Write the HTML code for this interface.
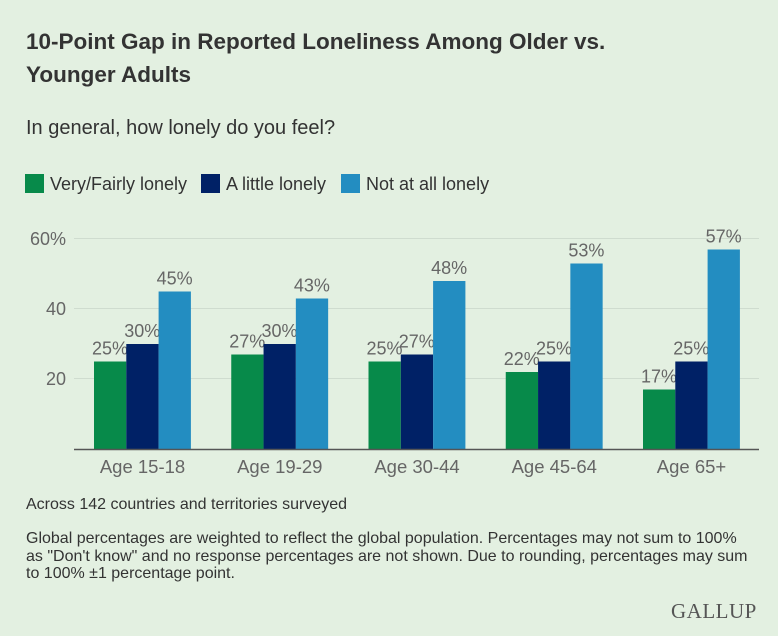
<!DOCTYPE html>
<html><head><style>
body{margin:0;background:#e3f0e1;}
#c{position:relative;width:778px;height:636px;background:#e3f0e1;font-family:"Liberation Sans",sans-serif;overflow:hidden}
.t{position:absolute;white-space:nowrap}
</style></head><body><div id="c">
<div class="t" style="left:26px;top:25px;font-size:22.5px;font-weight:bold;color:#333;line-height:33px">10-Point Gap in Reported Loneliness Among Older vs.<br>Younger Adults</div>
<div class="t" style="left:26px;top:117px;font-size:20px;color:#333">In general, how lonely do you feel?</div>
<svg width="778" height="636" style="position:absolute;left:0;top:0" font-family="Liberation Sans, sans-serif">
<g font-size="18" fill="#333">
<rect x="25" y="174" width="19" height="19" fill="#078a4a"/><text x="50" y="190">Very/Fairly lonely</text>
<rect x="201" y="174" width="19" height="19" fill="#002166"/><text x="226" y="190">A little lonely</text>
<rect x="341" y="174" width="19" height="19" fill="#238dc1"/><text x="366" y="190">Not at all lonely</text>
</g>
<g stroke="#cfdccf" stroke-width="1"><line x1="74" x2="759" y1="238.5" y2="238.5"/><line x1="74" x2="759" y1="308.5" y2="308.5"/><line x1="74" x2="759" y1="378.5" y2="378.5"/></g>
<g font-size="18" fill="#666" text-anchor="end"><text x="66" y="245">60%</text><text x="66" y="315">40</text><text x="66" y="385">20</text></g>
<g id="bars"></g>
<line x1="74" x2="759" y1="449.5" y2="449.5" stroke="#555" stroke-width="1.5"/>
</svg>
<div class="t" style="left:26px;top:496px;font-size:16px;color:#333">Across 142 countries and territories surveyed</div>
<div class="t" style="left:26px;top:530px;font-size:16px;color:#333;line-height:17.5px">Global percentages are weighted to reflect the global population. Percentages may not sum to 100%<br>as "Don't know" and no response percentages are not shown. Due to rounding, percentages may sum<br>to 100% ±1 percentage point.</div>
<div class="t" style="left:671px;top:599px;font-size:21px;font-family:'Liberation Serif',serif;color:#555;letter-spacing:0.5px">GALLUP</div>
</div>
<script>
var d=[["Age 15-18",25,30,45],["Age 19-29",27,30,43],["Age 30-44",25,27,48],["Age 45-64",22,25,53],["Age 65+",17,25,57]];
var col=["#078a4a","#002166","#238dc1"],s="";
d.forEach(function(g,i){var x0=94+i*137.25;
for(var k=0;k<3;k++){var v=g[k+1],x=x0+k*32.3,h=v*3.5,y=449-h;
s+='<rect x="'+x+'" y="'+y+'" width="32.3" height="'+h+'" fill="'+col[k]+'"/>';
s+='<text x="'+(x+16)+'" y="'+(y-7)+'" text-anchor="middle" font-size="18" fill="#666">'+v+'%</text>';}
s+='<text x="'+(x0+48.5)+'" y="473" text-anchor="middle" font-size="18.5" fill="#666">'+g[0]+'</text>';});
document.getElementById("bars").innerHTML=s;
</script>
</body></html>
